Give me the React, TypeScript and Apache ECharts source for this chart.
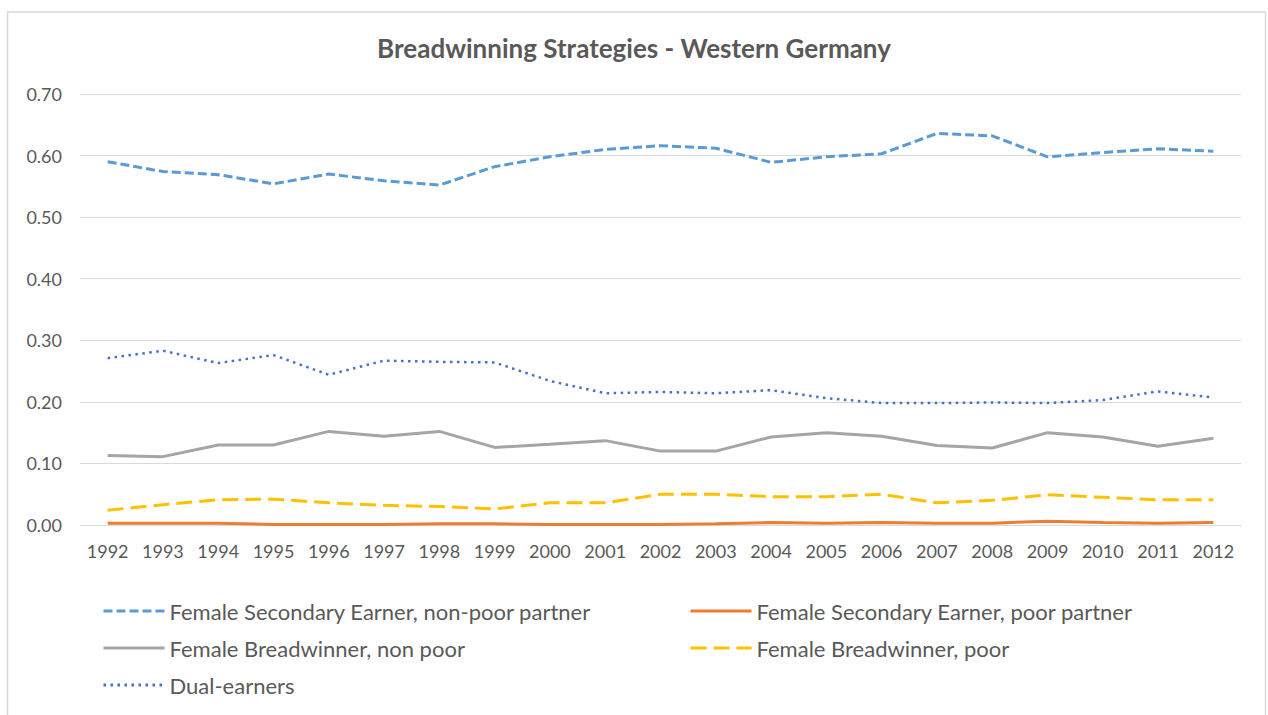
import React, { useEffect, useRef } from "react";
import * as echarts from "echarts";

const years = ["1992","1993","1994","1995","1996","1997","1998","1999","2000","2001","2002","2003","2004","2005","2006","2007","2008","2009","2010","2011","2012"];

const secondaryNonPoor = [0.590,0.574,0.569,0.554,0.570,0.559,0.552,0.582,0.598,0.610,0.616,0.612,0.589,0.598,0.603,0.636,0.632,0.598,0.605,0.611,0.607];
const secondaryPoor = [0.003,0.003,0.003,0.001,0.001,0.001,0.002,0.002,0.001,0.001,0.001,0.002,0.004,0.003,0.004,0.003,0.003,0.006,0.004,0.003,0.004];
const breadwinnerNonPoor = [0.113,0.111,0.130,0.130,0.152,0.144,0.152,0.126,0.131,0.137,0.120,0.120,0.143,0.150,0.144,0.129,0.125,0.150,0.143,0.128,0.141];
const breadwinnerPoor = [0.024,0.033,0.041,0.042,0.036,0.032,0.030,0.026,0.036,0.036,0.050,0.050,0.046,0.046,0.050,0.036,0.040,0.049,0.045,0.041,0.041];
const dualEarners = [0.271,0.283,0.263,0.276,0.244,0.267,0.265,0.264,0.234,0.214,0.216,0.214,0.219,0.206,0.198,0.198,0.199,0.198,0.203,0.217,0.207];

const names = [
  "Female Secondary Earner, non-poor partner",
  "Female Secondary Earner, poor partner",
  "Female Breadwinner, non poor",
  "Female Breadwinner, poor",
  "Dual-earners",
];

const FONT = "Lato";
const TXT = "#595959";

export default function App() {
  const ref = useRef<HTMLDivElement>(null);
  useEffect(() => {
    const chart = echarts.init(ref.current!, undefined, { renderer: "svg" });
    const legendCommon = {
      orient: "vertical" as const,
      top: 599,
      padding: 0,
      itemWidth: 61,
      itemHeight: 14,
      itemGap: 13,
      textStyle: { fontFamily: FONT, fontSize: 22, color: TXT, lineHeight: 24 },
      itemStyle: { opacity: 0 },
      lineStyle: { width: 3 },
      selectedMode: false,
    };
    chart.setOption({
      animation: false,
      backgroundColor: "#ffffff",
      title: {
        text: "Breadwinning Strategies - Western Germany",
        left: "center",
        top: 30,
        textStyle: { fontFamily: FONT, fontSize: 26, fontWeight: "bold", color: TXT },
      },
      graphic: [
        {
          type: "rect",
          shape: { x: 7.5, y: 12, width: 1258, height: 720 },
          style: { fill: "none", stroke: "#d9d9d9", lineWidth: 1.5 },
          silent: true,
        },
      ],
      legend: [
        { ...legendCommon, left: 102, data: [names[0], names[2], names[4]] },
        { ...legendCommon, left: 689, data: [names[1], names[3]] },
      ],
      grid: { left: 80, right: 27, top: 94, bottom: 190 },
      xAxis: {
        type: "category",
        data: years,
        boundaryGap: true,
        axisLine: { lineStyle: { color: "#d9d9d9", width: 1 } },
        axisTick: { show: false },
        axisLabel: { fontFamily: FONT, fontSize: 18, color: TXT, margin: 17, interval: 0 },
      },
      yAxis: {
        type: "value",
        min: 0,
        max: 0.7,
        interval: 0.1,
        axisLine: { show: false },
        axisTick: { show: false },
        splitLine: { lineStyle: { color: "#d9d9d9", width: 1 } },
        axisLabel: {
          fontFamily: FONT,
          fontSize: 18,
          color: TXT,
          margin: 18,
          formatter: (v: number) => v.toFixed(2),
        },
      },
      series: [
        {
          name: names[0],
          type: "line",
          data: secondaryNonPoor,
          symbol: "none",
          color: "#5B9BD5",
          lineStyle: { color: "#5B9BD5", width: 3, type: [9, 4] },
        },
        {
          name: names[1],
          type: "line",
          data: secondaryPoor,
          symbol: "none",
          color: "#ED7D31",
          lineStyle: { color: "#ED7D31", width: 3, type: "solid" },
        },
        {
          name: names[2],
          type: "line",
          data: breadwinnerNonPoor,
          symbol: "none",
          color: "#A5A5A5",
          lineStyle: { color: "#A5A5A5", width: 3, type: "solid" },
        },
        {
          name: names[3],
          type: "line",
          data: breadwinnerPoor,
          symbol: "none",
          color: "#FFC000",
          lineStyle: { color: "#FFC000", width: 3, type: [16, 7] },
        },
        {
          name: names[4],
          type: "line",
          data: dualEarners,
          symbol: "none",
          color: "#4472C4",
          lineStyle: { color: "#4472C4", width: 2.5, type: [2.5, 4.5] },
        },
      ],
    });
    return () => chart.dispose();
  }, []);
  return (
    <div
      ref={ref}
      style={{ position: "fixed", left: 0, top: 0, width: 1268, height: 715 }}
    />
  );
}
